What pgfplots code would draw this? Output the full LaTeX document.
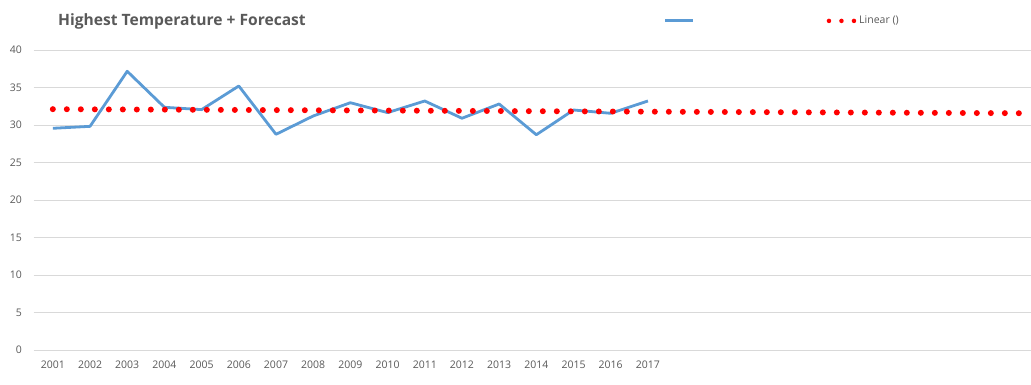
\documentclass[border=0pt]{standalone}
\usepackage{fontspec}
\setmainfont{Open Sans}
\usepackage{pgfplots}
\pgfplotsset{compat=1.18}
\definecolor{txtgray}{HTML}{595959}
\definecolor{gridgray}{HTML}{D9D9D9}
\definecolor{lineblue}{HTML}{5B9BD5}
\definecolor{dotred}{HTML}{FF0000}
\begin{document}
\begin{tikzpicture}[x=1pt,y=1pt]
\path[use as bounding box] (0,0) rectangle (1031,385);
\begin{axis}[
  at={(33.5pt,35pt)}, anchor=south west,
  scale only axis, width=997.5pt, height=300pt,
  xmin=-0.52, xmax=26.3, ymin=0, ymax=40,
  xtick={0,...,16},
  xticklabels={2001,2002,2003,2004,2005,2006,2007,2008,2009,2010,2011,2012,2013,2014,2015,2016,2017},
  ytick={0,5,...,40},
  ymajorgrids, grid style={gridgray, line width=0.9pt},
  axis line style={draw=none},
  major tick length=0pt,
  tick label style={font=\fontsize{10.5}{12}\selectfont, text=txtgray},
  yticklabel style={xshift=-8pt},
  xticklabel style={yshift=-7.5pt},
  /pgf/number format/assume math mode=true,
  /pgf/number format/1000 sep={},
  clip=false,
  legend columns=2,
  legend style={draw=none, fill=none, inner sep=0pt, outer sep=0pt,
    at={(0.632,1.097)}, anchor=west,
    font=\fontsize{10.5}{12}\selectfont, text=txtgray,
    /tikz/every even column/.append style={column sep=128pt}},
]
\addplot[lineblue, line width=2.8pt, line join=round,
  legend image code/.code={\draw[lineblue, line width=2.8pt] (0pt,0pt) -- (28pt,0pt);}]
coordinates {
(0,29.56) (1,29.82) (2,37.16) (3,32.36) (4,32.05) (5,35.2) (6,28.76) (7,31.2)
(8,32.97) (9,31.65) (10,33.2) (11,30.9) (12,32.8) (13,28.7) (14,32.0) (15,31.56) (16,33.2)
};
\addlegendentry{}
\addplot[dotred, line width=6pt, line cap=round, dash pattern=on 0pt off 14pt,
  legend image code/.code={\draw[dotred, line width=4.5pt, line cap=round, dash pattern=on 0pt off 12.5pt] (0pt,0pt) -- (26pt,0pt);}]
coordinates {(0,32.11) (26,31.57)};
\addlegendentry{Linear ()}
\end{axis}
\node[anchor=base west, inner sep=0pt, text=txtgray, font=\fontsize{15.6}{18}\selectfont\bfseries] at (58,359) {Highest Temperature + Forecast};
\end{tikzpicture}
\end{document}
